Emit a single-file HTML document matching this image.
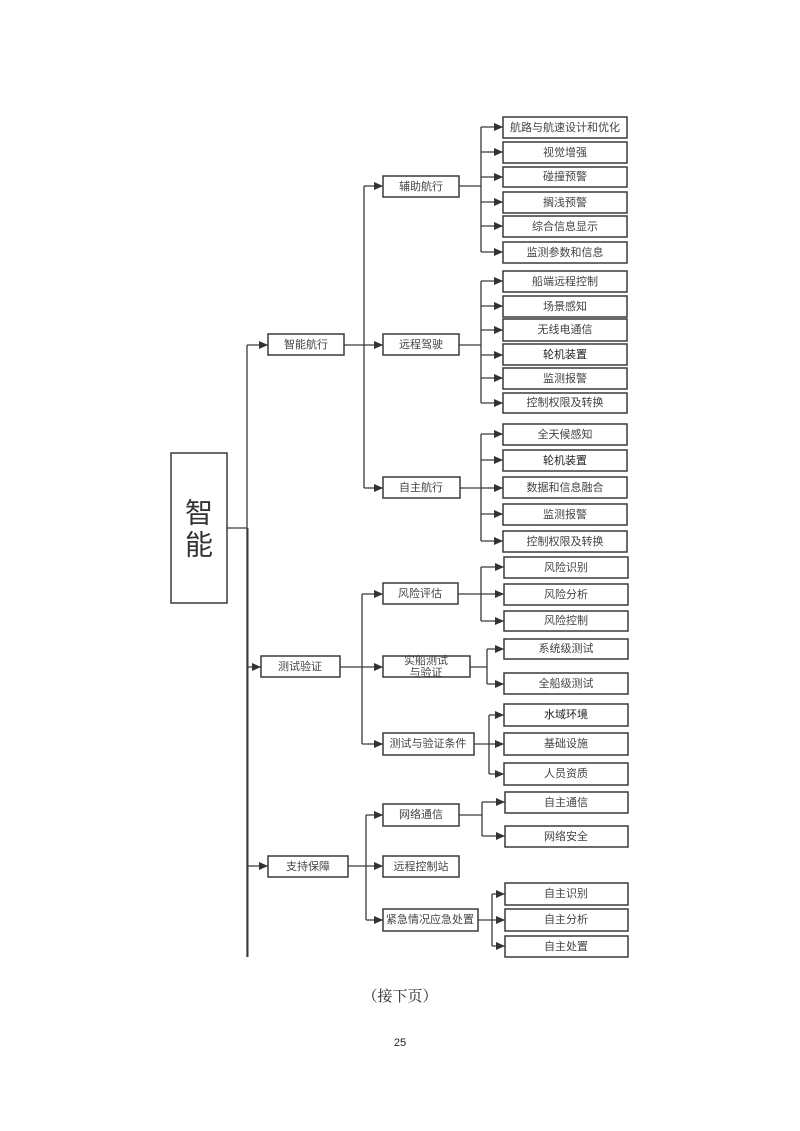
<!DOCTYPE html>
<html><head><meta charset="utf-8"><style>
html,body{margin:0;padding:0;background:#fff;}
svg{display:block;}
text{font-family:"Liberation Sans","Noto Sans CJK SC",sans-serif;fill:#444;font-size:11px;text-anchor:middle;dominant-baseline:central;}
.b{fill:#fff;stroke:#3a3a3a;stroke-width:1.5;}
.l{fill:none;stroke:#3a3a3a;stroke-width:1.3;}
.a{fill:#333;}
</style></head><body>
<svg width="800" height="1131" viewBox="0 0 800 1131">
<!-- root -->
<rect class="b" x="171" y="453" width="56" height="150"/>
<text x="199" y="513" style="font-size:28px;fill:#333">智</text>
<text x="199" y="545" style="font-size:28px;fill:#333">能</text>
<path class="l" d="M227 528H247M247 345V957"/>
<path class="l" d="M248 528V957" style="stroke-width:1"/>
<!-- level0 branches -->
<path class="l" d="M247 345H268M247 667H261M247 866H268"/>
<polygon class="a" points="259,341 268,345 259,349"/>
<polygon class="a" points="252,663 261,667 252,671"/>
<polygon class="a" points="259,862 268,866 259,870"/>
<rect class="b" x="268" y="334" width="76" height="21"/><text x="306" y="345">智能航行</text>
<rect class="b" x="261" y="656" width="79" height="21"/><text x="300" y="667">测试验证</text>
<rect class="b" x="268" y="856" width="80" height="21"/><text x="308" y="867">支持保障</text>
<!-- level1 group A -->
<path class="l" d="M344 345H383M364 186V488M364 186H383M364 488H383"/>
<polygon class="a" points="374,182 383,186 374,190"/>
<polygon class="a" points="374,341 383,345 374,349"/>
<polygon class="a" points="374,484 383,488 374,492"/>
<rect class="b" x="383" y="176" width="76" height="21"/><text x="421" y="187">辅助航行</text>
<rect class="b" x="383" y="334" width="76" height="21"/><text x="421" y="345">远程驾驶</text>
<rect class="b" x="383" y="477" width="77" height="21"/><text x="421" y="488">自主航行</text>
<!-- level1 group B -->
<path class="l" d="M340 667H383M362 594V744M362 594H383M362 744H383"/>
<polygon class="a" points="374,590 383,594 374,598"/>
<polygon class="a" points="374,663 383,667 374,671"/>
<polygon class="a" points="374,740 383,744 374,748"/>
<rect class="b" x="383" y="583" width="75" height="21"/><text x="420" y="594">风险评估</text>
<rect class="b" x="383" y="656" width="87" height="21"/><text x="426" y="661">实船测试</text><text x="426" y="673">与验证</text>
<rect class="b" x="383" y="733" width="91" height="22"/><text x="428" y="744">测试与验证条件</text>
<!-- level1 group C -->
<path class="l" d="M348 866H383M366 815V920M366 815H383M366 920H383"/>
<polygon class="a" points="374,811 383,815 374,819"/>
<polygon class="a" points="374,862 383,866 374,870"/>
<polygon class="a" points="374,916 383,920 374,924"/>
<rect class="b" x="383" y="804" width="76" height="22"/><text x="421" y="815">网络通信</text>
<rect class="b" x="383" y="856" width="76" height="21"/><text x="421" y="867">远程控制站</text>
<rect class="b" x="383" y="909" width="95" height="22"/><text x="430" y="920">紧急情况应急处置</text>

<!-- leaves: 辅助航行 -->
<path class="l" d="M459 186H481M481 127V252"/>
<g id="lv"></g>
<path class="l" d="M481 127H503M481 152H503M481 177H503M481 202H503M481 226H503M481 252H503"/>
<polygon class="a" points="494,123 503,127 494,131"/><polygon class="a" points="494,148 503,152 494,156"/><polygon class="a" points="494,173 503,177 494,181"/><polygon class="a" points="494,198 503,202 494,206"/><polygon class="a" points="494,222 503,226 494,230"/><polygon class="a" points="494,248 503,252 494,256"/>
<rect class="b" x="503" y="117" width="124" height="21"/><text x="565" y="128">航路与航速设计和优化</text>
<rect class="b" x="503" y="142" width="124" height="21"/><text x="565" y="153">视觉增强</text>
<rect class="b" x="503" y="167" width="124" height="20"/><text x="565" y="177">碰撞预警</text>
<rect class="b" x="503" y="192" width="124" height="21"/><text x="565" y="203">搁浅预警</text>
<rect class="b" x="503" y="216" width="124" height="21"/><text x="565" y="227">综合信息显示</text>
<rect class="b" x="503" y="242" width="124" height="21"/><text x="565" y="253">监测参数和信息</text>
<!-- 远程驾驶 -->
<path class="l" d="M459 345H481M481 281V403M481 281H503M481 306H503M481 330H503M481 355H503M481 378H503M481 403H503"/>
<polygon class="a" points="494,277 503,281 494,285"/><polygon class="a" points="494,302 503,306 494,310"/><polygon class="a" points="494,326 503,330 494,334"/><polygon class="a" points="494,351 503,355 494,359"/><polygon class="a" points="494,374 503,378 494,382"/><polygon class="a" points="494,399 503,403 494,407"/>
<rect class="b" x="503" y="271" width="124" height="21"/><text x="565" y="282">船端远程控制</text>
<rect class="b" x="503" y="296" width="124" height="21"/><text x="565" y="307">场景感知</text>
<rect class="b" x="503" y="319" width="124" height="22"/><text x="565" y="330">无线电通信</text>
<rect class="b" x="503" y="344" width="124" height="21"/><text x="565" y="355" style="fill:#222">轮机装置</text>
<rect class="b" x="503" y="368" width="124" height="21"/><text x="565" y="379">监测报警</text>
<rect class="b" x="503" y="393" width="124" height="20"/><text x="565" y="403">控制权限及转换</text>
<!-- 自主航行 -->
<path class="l" d="M460 488H481M481 434V541M481 434H503M481 460H503M481 488H503M481 514H503M481 541H503"/>
<polygon class="a" points="494,430 503,434 494,438"/><polygon class="a" points="494,456 503,460 494,464"/><polygon class="a" points="494,484 503,488 494,492"/><polygon class="a" points="494,510 503,514 494,518"/><polygon class="a" points="494,537 503,541 494,545"/>
<rect class="b" x="503" y="424" width="124" height="21"/><text x="565" y="435">全天候感知</text>
<rect class="b" x="503" y="450" width="124" height="21"/><text x="565" y="461" style="fill:#222">轮机装置</text>
<rect class="b" x="503" y="477" width="124" height="21"/><text x="565" y="488">数据和信息融合</text>
<rect class="b" x="503" y="504" width="124" height="21"/><text x="565" y="515">监测报警</text>
<rect class="b" x="503" y="531" width="124" height="21"/><text x="565" y="542">控制权限及转换</text>
<!-- 风险评估 -->
<path class="l" d="M458 594H481M481 567V621M481 567H504M481 594H504M481 621H504"/>
<polygon class="a" points="495,563 504,567 495,571"/><polygon class="a" points="495,590 504,594 495,598"/><polygon class="a" points="495,617 504,621 495,625"/>
<rect class="b" x="504" y="557" width="124" height="21"/><text x="566" y="568">风险识别</text>
<rect class="b" x="504" y="584" width="124" height="21"/><text x="566" y="595">风险分析</text>
<rect class="b" x="504" y="611" width="124" height="20"/><text x="566" y="621">风险控制</text>
<!-- 实船 -->
<path class="l" d="M470 667H487M487 649V684M487 649H504M487 684H504"/>
<polygon class="a" points="495,645 504,649 495,653"/><polygon class="a" points="495,680 504,684 495,688"/>
<rect class="b" x="504" y="639" width="124" height="20"/><text x="566" y="649">系统级测试</text>
<rect class="b" x="504" y="673" width="124" height="21"/><text x="566" y="684">全船级测试</text>
<!-- 条件 -->
<path class="l" d="M474 744H489M489 715V774M489 715H504M489 744H504M489 774H504"/>
<polygon class="a" points="495,711 504,715 495,719"/><polygon class="a" points="495,740 504,744 495,748"/><polygon class="a" points="495,770 504,774 495,778"/>
<rect class="b" x="504" y="704" width="124" height="22"/><text x="566" y="715" style="fill:#222">水域环境</text>
<rect class="b" x="504" y="733" width="124" height="22"/><text x="566" y="744">基础设施</text>
<rect class="b" x="504" y="763" width="124" height="22"/><text x="566" y="774">人员资质</text>
<!-- 网络通信 -->
<path class="l" d="M459 815H482M482 802V836M482 802H505M482 836H505"/>
<polygon class="a" points="496,798 505,802 496,806"/><polygon class="a" points="496,832 505,836 496,840"/>
<rect class="b" x="505" y="792" width="123" height="21"/><text x="566" y="803">自主通信</text>
<rect class="b" x="505" y="826" width="123" height="21"/><text x="566" y="837">网络安全</text>
<!-- 紧急 -->
<path class="l" d="M478 920H492M492 894V946M492 894H505M492 920H505M492 946H505"/>
<polygon class="a" points="496,890 505,894 496,898"/><polygon class="a" points="496,916 505,920 496,924"/><polygon class="a" points="496,942 505,946 496,950"/>
<rect class="b" x="505" y="883" width="123" height="22"/><text x="566" y="894">自主识别</text>
<rect class="b" x="505" y="909" width="123" height="22"/><text x="566" y="920">自主分析</text>
<rect class="b" x="505" y="936" width="123" height="21"/><text x="566" y="947">自主处置</text>

<text x="400" y="997" style="font-family:'Liberation Serif','Noto Serif CJK SC',serif;font-size:15px;fill:#222">（接下页）</text>
<text x="400" y="1043" style="font-size:11px;fill:#222">25</text>
</svg>
</body></html>
